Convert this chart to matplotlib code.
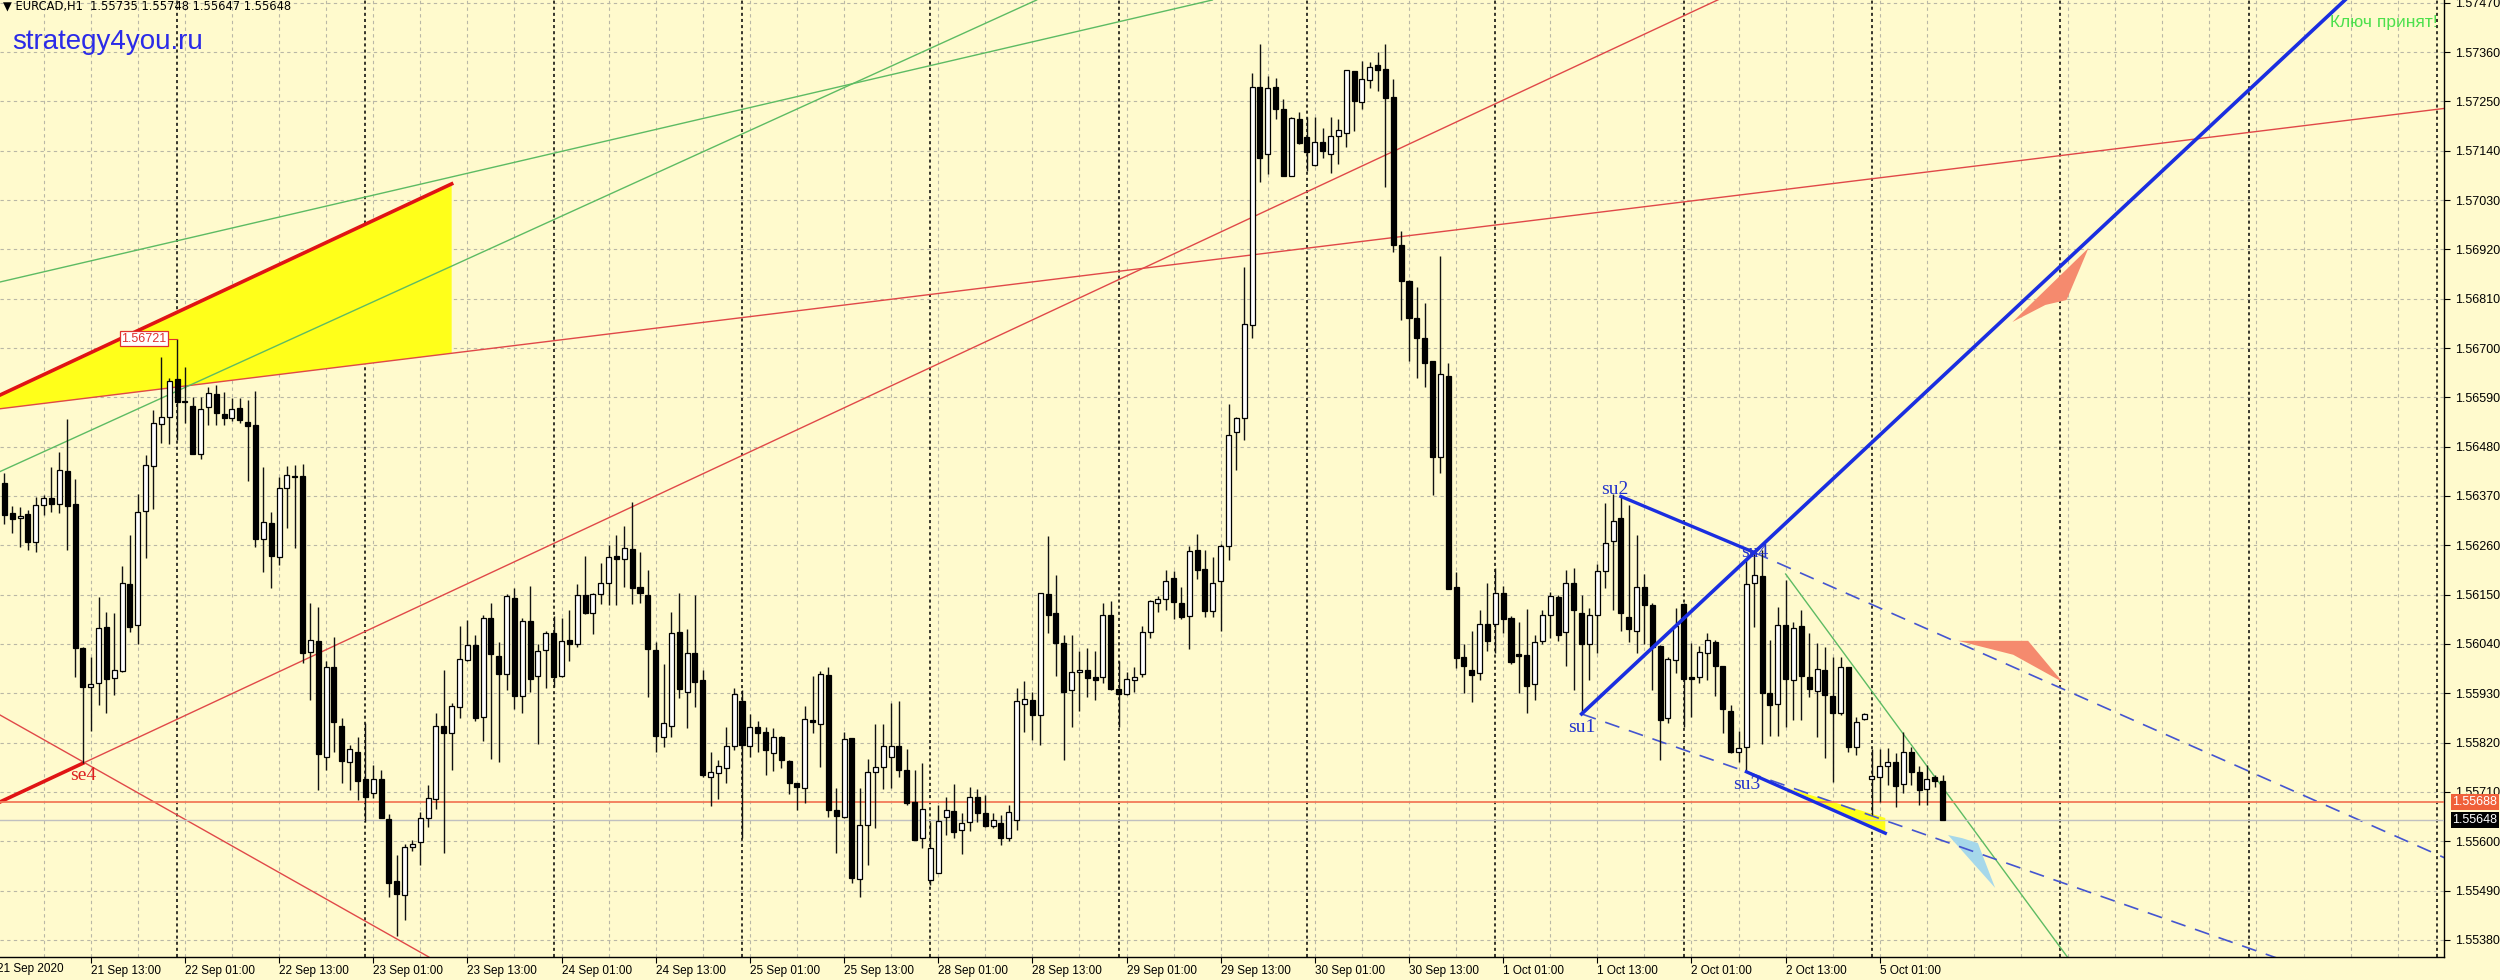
import matplotlib
matplotlib.use("Agg")
import matplotlib.pyplot as plt
from matplotlib.transforms import blended_transform_factory
from matplotlib.patches import Polygon
import numpy as np

plt.rcParams['font.family'] = ['Liberation Sans', 'DejaVu Sans']

# =====================================================
# Data - EURCAD H1 candles
# bar 0 = 22 Sep 2020 00:00, weekends skipped (24 bars per day)
# =====================================================

first_bar = -22

opens = [
    1.56400, 1.56333, 1.56322, 1.56329, 1.56268, 1.56350, 1.56365, 1.56352,
    1.56426, 1.56352, 1.56030, 1.55943, 1.55952, 1.56077, 1.55965, 1.55980,
    1.56173, 1.56082, 1.56337, 1.56437, 1.56530, 1.56547, 1.56630, 1.56582,
    1.56571, 1.56464, 1.56568, 1.56597, 1.56553, 1.56545, 1.56567, 1.56536,
    1.56528, 1.56273, 1.56309, 1.56235, 1.56387, 1.56415, 1.56415, 1.56021,
    1.56047, 1.55789, 1.55988, 1.55858, 1.55777, 1.55800, 1.55740, 1.55707,
    1.55738, 1.55649, 1.55511, 1.55480, 1.55587, 1.55598, 1.55653, 1.55694,
    1.55858, 1.55842, 1.55900, 1.56004, 1.56038, 1.55878, 1.56099, 1.56013,
    1.55972, 1.56143, 1.55924, 1.56092, 1.55969, 1.56027, 1.56065, 1.55969,
    1.56049, 1.56040, 1.56149, 1.56110, 1.56151, 1.56175, 1.56236, 1.56229,
    1.56251, 1.56168, 1.56149, 1.56027, 1.55833, 1.55858, 1.56066, 1.55932,
    1.56021, 1.55960, 1.55744, 1.55752, 1.55764, 1.55812, 1.55913, 1.55812,
    1.55855, 1.55844, 1.55798, 1.55832, 1.55780, 1.55731, 1.55718, 1.55870,
    1.55862, 1.55971, 1.55670, 1.55655, 1.55830, 1.55516, 1.55636, 1.55754,
    1.55765, 1.55789, 1.55813, 1.55760, 1.55688, 1.55607, 1.55514, 1.55530,
    1.55655, 1.55668, 1.55625, 1.55642, 1.55699, 1.55664, 1.55634, 1.55641,
    1.55607, 1.55647, 1.55906, 1.55916, 1.55882, 1.56151, 1.56109, 1.56042,
    1.55937, 1.55977, 1.55983, 1.55967, 1.55967, 1.56105, 1.55940, 1.55929,
    1.55960, 1.55972, 1.56067, 1.56131, 1.56141, 1.56188, 1.56131, 1.56102,
    1.56249, 1.56208, 1.56113, 1.56180, 1.56259, 1.56512, 1.56543, 1.56751,
    1.57283, 1.57132, 1.57281, 1.57232, 1.57083, 1.57211, 1.57170, 1.57108,
    1.57160, 1.57132, 1.57173, 1.57180, 1.57317, 1.57248, 1.57298, 1.57330,
    1.57323, 1.57260, 1.56929, 1.56849, 1.56767, 1.56722, 1.56671, 1.56458,
    1.56637, 1.56167, 1.56010, 1.55981, 1.55975, 1.56085, 1.56085, 1.56153,
    1.56097, 1.56017, 1.56015, 1.55951, 1.56047, 1.56105, 1.56145, 1.56067,
    1.56177, 1.56110, 1.56040, 1.56105, 1.56202, 1.56269, 1.56322, 1.56100,
    1.56070, 1.56167, 1.56127, 1.56035, 1.55874, 1.56004, 1.56129, 1.55966,
    1.55966, 1.56019, 1.56045, 1.55991, 1.55891, 1.55800, 1.55810, 1.56175,
    1.56192, 1.55930, 1.55906, 1.56082, 1.55960, 1.56081, 1.55967, 1.55935,
    1.55983, 1.55925, 1.55885, 1.55988, 1.55810, 1.55872, 1.55740, 1.55743,
    1.55768, 1.55777, 1.55728, 1.55800, 1.55755, 1.55716, 1.55743, 1.55735,
]

highs = [
    1.56422, 1.56348, 1.56346, 1.56339, 1.56368, 1.56372, 1.56434, 1.56469,
    1.56541, 1.56407, 1.56034, 1.56010, 1.56145, 1.56112, 1.56110, 1.56214,
    1.56283, 1.56374, 1.56461, 1.56562, 1.56681, 1.56633, 1.56721, 1.56658,
    1.56591, 1.56591, 1.56614, 1.56617, 1.56602, 1.56588, 1.56588, 1.56584,
    1.56605, 1.56434, 1.56335, 1.56413, 1.56437, 1.56439, 1.56441, 1.56132,
    1.56123, 1.56002, 1.56056, 1.55874, 1.55815, 1.55833, 1.55863, 1.55770,
    1.55760, 1.55660, 1.55569, 1.55593, 1.55603, 1.55666, 1.55725, 1.55887,
    1.55982, 1.55909, 1.56080, 1.56093, 1.56060, 1.56105, 1.56131, 1.56045,
    1.56151, 1.56164, 1.56097, 1.56170, 1.56040, 1.56070, 1.56102, 1.56099,
    1.56116, 1.56173, 1.56236, 1.56154, 1.56221, 1.56261, 1.56283, 1.56304,
    1.56357, 1.56244, 1.56205, 1.56045, 1.55995, 1.56112, 1.56154, 1.56073,
    1.56149, 1.55982, 1.55800, 1.55781, 1.55854, 1.55941, 1.55937, 1.55883,
    1.55868, 1.55855, 1.55852, 1.55835, 1.55781, 1.55731, 1.55902, 1.55969,
    1.55980, 1.55989, 1.55718, 1.55844, 1.55830, 1.55718, 1.55783, 1.55862,
    1.55862, 1.55908, 1.55913, 1.55805, 1.55760, 1.55774, 1.55644, 1.55681,
    1.55699, 1.55727, 1.55662, 1.55722, 1.55716, 1.55703, 1.55662, 1.55659,
    1.55681, 1.55942, 1.55957, 1.55934, 1.56154, 1.56280, 1.56193, 1.56060,
    1.56061, 1.56024, 1.56031, 1.56024, 1.56131, 1.56136, 1.56003, 1.55977,
    1.55988, 1.56080, 1.56139, 1.56147, 1.56205, 1.56203, 1.56167, 1.56259,
    1.56285, 1.56249, 1.56233, 1.56264, 1.56576, 1.56546, 1.56881, 1.57314,
    1.57378, 1.57307, 1.57303, 1.57255, 1.57216, 1.57227, 1.57216, 1.57214,
    1.57191, 1.57215, 1.57210, 1.57321, 1.57318, 1.57339, 1.57338, 1.57359,
    1.57377, 1.57300, 1.56961, 1.56852, 1.56837, 1.56800, 1.56672, 1.56906,
    1.56667, 1.56200, 1.56040, 1.56070, 1.56115, 1.56177, 1.56209, 1.56170,
    1.56103, 1.56090, 1.56117, 1.56060, 1.56115, 1.56155, 1.56150, 1.56204,
    1.56209, 1.56150, 1.56120, 1.56219, 1.56354, 1.56374, 1.56369, 1.56349,
    1.56284, 1.56195, 1.56131, 1.56038, 1.56012, 1.56120, 1.56132, 1.56043,
    1.56035, 1.56065, 1.56049, 1.55991, 1.55904, 1.55847, 1.56227, 1.56242,
    1.56250, 1.56049, 1.56123, 1.56183, 1.56090, 1.56116, 1.56064, 1.56043,
    1.56034, 1.56012, 1.56012, 1.55988, 1.55878, 1.55885, 1.55805, 1.55805,
    1.55807, 1.55796, 1.55844, 1.55811, 1.55768, 1.55770, 1.55748, 1.55748,
]

lows = [
    1.56307, 1.56287, 1.56257, 1.56250, 1.56246, 1.56328, 1.56335, 1.56331,
    1.56250, 1.55966, 1.55774, 1.55846, 1.55905, 1.55885, 1.55926, 1.55978,
    1.56067, 1.56041, 1.56231, 1.56340, 1.56489, 1.56487, 1.56495, 1.56533,
    1.56464, 1.56452, 1.56528, 1.56528, 1.56528, 1.56538, 1.56533, 1.56404,
    1.56257, 1.56201, 1.56164, 1.56216, 1.56298, 1.56253, 1.55997, 1.55915,
    1.55714, 1.55759, 1.55800, 1.55729, 1.55714, 1.55692, 1.55644, 1.55696,
    1.55651, 1.55476, 1.55389, 1.55424, 1.55579, 1.55547, 1.55632, 1.55671,
    1.55574, 1.55759, 1.55876, 1.56003, 1.55869, 1.55824, 1.55783, 1.55777,
    1.55937, 1.55896, 1.55885, 1.55932, 1.55818, 1.55941, 1.55945, 1.55967,
    1.56002, 1.56034, 1.56107, 1.56062, 1.56129, 1.56127, 1.56127, 1.56168,
    1.56129, 1.56131, 1.55922, 1.55800, 1.55810, 1.55833, 1.55919, 1.55852,
    1.55899, 1.55743, 1.55679, 1.55694, 1.55729, 1.55804, 1.55607, 1.55787,
    1.55800, 1.55748, 1.55757, 1.55763, 1.55705, 1.55670, 1.55685, 1.55841,
    1.55766, 1.55655, 1.55573, 1.55651, 1.55506, 1.55476, 1.55547, 1.55629,
    1.55716, 1.55719, 1.55744, 1.55681, 1.55604, 1.55584, 1.55502, 1.55529,
    1.55614, 1.55607, 1.55571, 1.55624, 1.55644, 1.55632, 1.55629, 1.55592,
    1.55600, 1.55625, 1.55844, 1.55826, 1.55815, 1.56064, 1.55969, 1.55781,
    1.55855, 1.55890, 1.55921, 1.55916, 1.55952, 1.55937, 1.55855, 1.55926,
    1.55934, 1.55967, 1.56054, 1.56111, 1.56116, 1.56096, 1.56096, 1.56029,
    1.56184, 1.56100, 1.56100, 1.56070, 1.56228, 1.56428, 1.56495, 1.56722,
    1.57071, 1.57088, 1.57211, 1.57083, 1.57083, 1.57155, 1.57094, 1.57106,
    1.57124, 1.57090, 1.57111, 1.57148, 1.57185, 1.57232, 1.57280, 1.57272,
    1.57059, 1.56913, 1.56762, 1.56672, 1.56633, 1.56613, 1.56372, 1.56421,
    1.56163, 1.55986, 1.55931, 1.55911, 1.55960, 1.56025, 1.56020, 1.56065,
    1.55996, 1.55931, 1.55886, 1.55916, 1.56040, 1.56053, 1.56047, 1.55990,
    1.55938, 1.55884, 1.55960, 1.56020, 1.56165, 1.56115, 1.56070, 1.56045,
    1.56020, 1.56040, 1.55937, 1.55781, 1.55863, 1.55975, 1.55855, 1.55878,
    1.55952, 1.55960, 1.55924, 1.55841, 1.55798, 1.55777, 1.55755, 1.56078,
    1.55818, 1.55835, 1.55835, 1.55855, 1.55870, 1.55870, 1.55922, 1.55833,
    1.55785, 1.55733, 1.55882, 1.55800, 1.55792, 1.55870, 1.55659, 1.55688,
    1.55725, 1.55677, 1.55707, 1.55725, 1.55681, 1.55681, 1.55722, 1.55647,
]

closes = [
    1.56328, 1.56319, 1.56326, 1.56268, 1.56350, 1.56365, 1.56352, 1.56429,
    1.56348, 1.56030, 1.55943, 1.55950, 1.56075, 1.55963, 1.55982, 1.56177,
    1.56078, 1.56335, 1.56439, 1.56532, 1.56547, 1.56626, 1.56579, 1.56580,
    1.56464, 1.56565, 1.56599, 1.56554, 1.56545, 1.56565, 1.56539, 1.56526,
    1.56273, 1.56313, 1.56236, 1.56387, 1.56417, 1.56412, 1.56019, 1.56049,
    1.55795, 1.55989, 1.55865, 1.55779, 1.55805, 1.55735, 1.55699, 1.55738,
    1.55651, 1.55508, 1.55482, 1.55588, 1.55595, 1.55653, 1.55696, 1.55858,
    1.55841, 1.55902, 1.56006, 1.56038, 1.55876, 1.56099, 1.56018, 1.55972,
    1.56147, 1.55924, 1.56092, 1.55961, 1.56025, 1.56064, 1.55967, 1.56047,
    1.56041, 1.56149, 1.56108, 1.56151, 1.56175, 1.56235, 1.56229, 1.56253,
    1.56164, 1.56153, 1.56028, 1.55835, 1.55863, 1.56064, 1.55939, 1.56019,
    1.55956, 1.55748, 1.55754, 1.55768, 1.55812, 1.55928, 1.55815, 1.55855,
    1.55841, 1.55804, 1.55833, 1.55781, 1.55729, 1.55722, 1.55872, 1.55865,
    1.55973, 1.55670, 1.55657, 1.55828, 1.55519, 1.55636, 1.55754, 1.55765,
    1.55812, 1.55813, 1.55760, 1.55685, 1.55604, 1.55672, 1.55584, 1.55646,
    1.55670, 1.55621, 1.55641, 1.55699, 1.55662, 1.55634, 1.55647, 1.55607,
    1.55665, 1.55913, 1.55918, 1.55882, 1.56154, 1.56105, 1.56042, 1.55934,
    1.55977, 1.55983, 1.55965, 1.55959, 1.56105, 1.55940, 1.55929, 1.55962,
    1.55967, 1.56067, 1.56136, 1.56141, 1.56180, 1.56133, 1.56100, 1.56247,
    1.56205, 1.56113, 1.56177, 1.56259, 1.56505, 1.56543, 1.56754, 1.57283,
    1.57124, 1.57280, 1.57234, 1.57083, 1.57213, 1.57157, 1.57137, 1.57160,
    1.57140, 1.57173, 1.57187, 1.57319, 1.57250, 1.57300, 1.57327, 1.57319,
    1.57257, 1.56929, 1.56849, 1.56767, 1.56722, 1.56667, 1.56458, 1.56641,
    1.56163, 1.56008, 1.55990, 1.55971, 1.56085, 1.56047, 1.56153, 1.56095,
    1.56000, 1.56013, 1.55946, 1.56045, 1.56105, 1.56147, 1.56060, 1.56177,
    1.56115, 1.56040, 1.56105, 1.56202, 1.56266, 1.56314, 1.56110, 1.56073,
    1.56167, 1.56127, 1.56034, 1.55870, 1.56006, 1.56080, 1.55962, 1.55963,
    1.56021, 1.56049, 1.55991, 1.55894, 1.55800, 1.55807, 1.56174, 1.56194,
    1.55930, 1.55904, 1.56082, 1.55961, 1.56075, 1.55969, 1.55939, 1.55984,
    1.55926, 1.55885, 1.55989, 1.55811, 1.55865, 1.55883, 1.55746, 1.55768,
    1.55777, 1.55723, 1.55800, 1.55755, 1.55714, 1.55740, 1.55735, 1.55648,
]

# trading days shown (bar // 24 + 1 gives the index)
days = ["21 Sep", "22 Sep", "23 Sep", "24 Sep", "25 Sep", "28 Sep",
        "29 Sep", "30 Sep", "1 Oct", "2 Oct", "5 Oct", "6 Oct"]

# right axis price scale
price_ticks = [1.55380, 1.55490, 1.55600, 1.55710, 1.55820, 1.55930,
               1.56040, 1.56150, 1.56260, 1.56370, 1.56480, 1.56590,
               1.56700, 1.56810, 1.56920, 1.57030, 1.57140, 1.57250,
               1.57360, 1.57470]

level_price = 1.55688
bid_price = 1.55648
marked_high = 1.56721

# =====================================================
# Drawn objects, anchors as (bar, price)
# =====================================================

se4 = (-12, 1.55774)
su1 = (179, 1.55884)
su2 = (184, 1.56369)
su3 = (200, 1.55755)
su4 = (201, 1.56244)

red_up_dir = (147, 1.57073)
red_down = [(-23, 1.55886), (33, 1.55333)]
red_long = [(0, 1.56613), (200, 1.57043)]
green_a = [(0, 1.56939), (100, 1.57346)]
green_b = [(0, 1.56604), (100, 1.57400)]
green_c = [(205, 1.56196), (228.5, 1.55637)]
su4_dash_dir = (289, 1.55563)
su3_end = (217.7, 1.55618)

yellow_tri = [(-27.7, 1.56553), (35, 1.57066), (35, 1.56688)]
yellow_small = [(205.2, 1.55719), (217.7, 1.55652), (217.7, 1.55621)]
salmon_up = [(233.9, 1.56758), (243.6, 1.56923), (240.8, 1.56807), (238.1, 1.56796)]
salmon_mid = [(227.0, 1.56047), (235.9, 1.56047), (240.3, 1.55955), (234.0, 1.56016)]
blue_arrow = [(225.7, 1.55614), (231.7, 1.55496), (229.5, 1.55596), (227.5, 1.55607)]

# =====================================================
# Figure
# =====================================================

bg = "#FFFACD"
grid_col = "#B9B7A6"

fig = plt.figure(figsize=(25, 9.8), dpi=100, facecolor=bg)
ax = fig.add_axes([0, 23 / 980, 2444 / 2500, 957 / 980], facecolor=bg)
ax.set_autoscale_on(False)

x_min, x_max = -22.56, 288.9
y_min, y_max = 1.55342, 1.57476
ax.set_xlim(x_min, x_max)
ax.set_ylim(y_min, y_max)

# grid and day separators
for p in price_ticks:
    ax.axhline(p, color=grid_col, lw=0.8, ls=(0, (3, 3)), zorder=0)
for b in range(-23, 290, 6):
    ax.axvline(b, color=grid_col, lw=0.8, ls=(0, (3, 3)), zorder=0)
for b in range(0, 290, 24):
    ax.axvline(b, color="black", lw=1.1, ls=(0, (2, 2)), zorder=1)


def ray(p1, p2, **kw):
    # line from p1 through p2 running on past the chart edge
    x1, y1 = p1
    x2, y2 = p2
    far = 400 if x2 > x1 else -400
    k = (y2 - y1) / (x2 - x1)
    ax.plot([x1, far], [y1, y1 + k * (far - x1)], **kw)


# filled shapes
ax.add_patch(Polygon(yellow_tri, closed=True, facecolor="#FFFF1A", edgecolor="none", zorder=1.5))
ax.add_patch(Polygon(yellow_small, closed=True, facecolor="#FFFF1A", edgecolor="none", zorder=1.5))
ax.add_patch(Polygon(salmon_up, closed=True, facecolor="#F58A6E", edgecolor="none", zorder=1.5))
ax.add_patch(Polygon(salmon_mid, closed=True, facecolor="#F58A6E", edgecolor="none", zorder=1.5))
ax.add_patch(Polygon(blue_arrow, closed=True, facecolor="#A6D8EA", edgecolor="none", zorder=1.5))

# red trend lines
ax.plot([yellow_tri[0][0], yellow_tri[1][0]], [yellow_tri[0][1], yellow_tri[1][1]],
        color="#E01414", lw=2.6, zorder=2)
# thin ray to the right of se4, thick part to the left of it
ray(se4, red_up_dir, color="#E04848", lw=1.0, zorder=2)
back = (2 * se4[0] - red_up_dir[0], 2 * se4[1] - red_up_dir[1])
ray(se4, back, color="#E01414", lw=2.6, zorder=2)
ax.axline(red_down[0], red_down[1], color="#E04848", lw=1.0, zorder=2)
ax.axline(red_long[0], red_long[1], color="#E04848", lw=1.0, zorder=2)

# green lines
ax.axline(green_a[0], green_a[1], color="#5DBB63", lw=1.0, zorder=2)
ax.axline(green_b[0], green_b[1], color="#5DBB63", lw=1.0, zorder=2)
ray(green_c[0], green_c[1], color="#5DBB63", lw=1.0, zorder=2)

# blue construction
ray(su1, su4, color="#1A2EE0", lw=2.6, zorder=7)
ax.plot([su2[0], su4[0]], [su2[1], su4[1]], color="#1A2EE0", lw=2.4, zorder=7)
ray(su4, su4_dash_dir, color="#4455D0", lw=1.2, ls=(0, (9, 6)), zorder=2)
ray(su1, su3, color="#4455D0", lw=1.2, ls=(0, (9, 6)), zorder=2)
ax.plot([su3[0], su3_end[0]], [su3[1], su3_end[1]], color="#1A2EE0", lw=2.4, zorder=7)

# price level and bid line
ax.axhline(level_price, color="#F27A58", lw=1.3, zorder=3)
ax.axhline(bid_price, color="#C0C0C0", lw=1.0, zorder=3)

# =====================================================
# Candles
# =====================================================

bars = np.arange(first_bar, first_bar + len(opens))
o = np.array(opens)
h = np.array(highs)
l = np.array(lows)
c = np.array(closes)
up = c > o

ax.vlines(bars, l, h, color="#111111", lw=1.0, zorder=5)
body_h = np.maximum(np.abs(c - o), 0.00003)
body_bottom = (o + c) / 2 - body_h / 2
ax.bar(bars, body_h, bottom=body_bottom, width=0.64,
       color=np.where(up, "white", "black"), edgecolor="black", lw=0.9, zorder=6)

# =====================================================
# Labels on the chart
# =====================================================

serif = ["Liberation Serif", "DejaVu Serif"]
ax.text(su1[0], su1[1] - 0.00012, "su1", color="#2233CC", fontsize=14, family=serif,
        ha="center", va="top", zorder=8)
ax.text(su2[0] - 0.8, su2[1] - 0.00003, "su2", color="#2233CC", fontsize=14, family=serif,
        ha="center", va="bottom", zorder=8)
ax.text(su3[0], su3[1] - 0.00010, "su3", color="#2233CC", fontsize=14, family=serif,
        ha="center", va="top", zorder=8)
ax.text(su4[0], su4[1], "su4", color="#2233CC", fontsize=14, family=serif,
        ha="center", va="center", zorder=8)
ax.text(se4[0], se4[1] - 0.00008, "se4", color="#DD2020", fontsize=14, family=serif,
        ha="center", va="top", zorder=8)

ax.plot([-1.35, 0], [marked_high, marked_high], color="#E03030", lw=0.8, zorder=7)
ax.text(-1.35, marked_high, "1.56721", color="#E03030", fontsize=9,
        ha="right", va="center", zorder=8,
        bbox=dict(facecolor="white", edgecolor="#E03030", pad=1.2, lw=0.9))

ax.text(0.0012, 0.9935, "\u25bc EURCAD,H1  1.55735 1.55748 1.55647 1.55648",
        transform=ax.transAxes, fontsize=8.3, ha="left", va="center", color="black",
        family=["DejaVu Sans"], zorder=9)
ax.text(0.005, 0.956, "strategy4you.ru", transform=ax.transAxes, fontsize=20,
        color="#2B2BE8", ha="left", va="center", zorder=9)
ax.text(0.9975, 0.976, "Ключ принят!", transform=ax.transAxes, fontsize=12.5,
        color="#4CE04C", ha="right", va="center", zorder=9)

# =====================================================
# Axes
# =====================================================

for side in ["left", "top"]:
    ax.spines[side].set_visible(False)
for side in ["right", "bottom"]:
    ax.spines[side].set_color("black")
    ax.spines[side].set_linewidth(1.0)

ax.yaxis.tick_right()
ax.set_yticks(price_ticks)
ax.set_yticklabels([f"{p:.5f}" for p in price_ticks])
ax.tick_params(axis="y", direction="out", length=4, width=0.8, pad=4, labelsize=9)

label_bars = [b for b in range(1, int(bars[-1]) + 1, 12)]
label_text = [f"{days[b // 24 + 1]} {b % 24:02d}:00" for b in label_bars]
label_bars = [-11] + label_bars
label_text = [f"{days[0]} 13:00"] + label_text
ax.set_xticks(label_bars)
ax.set_xticklabels(label_text, ha="left")
ax.tick_params(axis="x", direction="out", length=4, width=0.8, pad=2, labelsize=8.5)

trans = blended_transform_factory(ax.transData, ax.transAxes)
ax.text(-23, -0.0063, "21 Sep 2020", transform=trans, fontsize=8.5,
        ha="left", va="top", clip_on=False)

# price tags on the right scale
trans_y = blended_transform_factory(ax.transAxes, ax.transData)
ax.text(1.0035, level_price, "1.55688", transform=trans_y, fontsize=9, color="white",
        ha="left", va="center", clip_on=False, zorder=10,
        bbox=dict(facecolor="#F0603A", edgecolor="none", pad=1.3))
ax.text(1.0035, bid_price, "1.55648", transform=trans_y, fontsize=9, color="white",
        ha="left", va="center", clip_on=False, zorder=10,
        bbox=dict(facecolor="black", edgecolor="none", pad=1.3))

fig.savefig("out.png", dpi=100, facecolor=bg)
